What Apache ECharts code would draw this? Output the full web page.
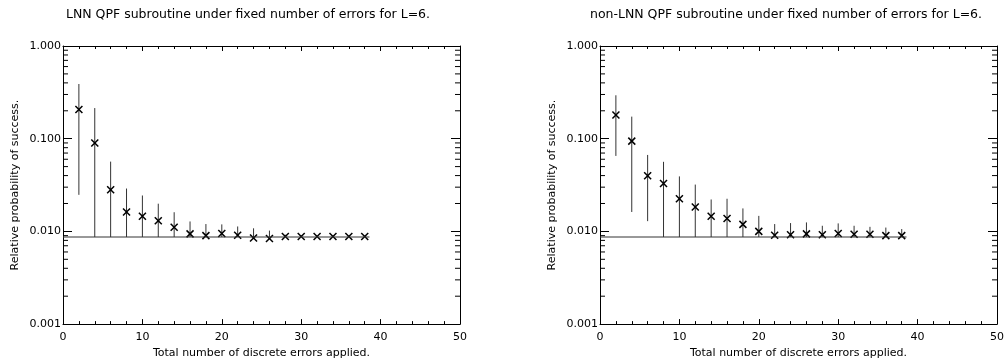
<!DOCTYPE html>
<html>
<head>
<meta charset="utf-8">
<script src="https://cdn.jsdelivr.net/npm/echarts@6/dist/echarts.min.js"></script>
<style>
  html, body { margin: 0; padding: 0; background: #fff; }
  #main { width: 1007px; height: 364px; }
</style>
</head>
<body>
<div id="main"></div>
<script>
// number of errors applied
var errorsApplied = [2, 4, 6, 8, 10, 12, 14, 16, 18, 20, 22, 24, 26, 28, 30, 32, 34, 36, 38];

// LNN panel: value, low, high of the error bar
var lnnValue = [0.207, 0.0897, 0.0281, 0.0162, 0.0146, 0.0130, 0.0111, 0.0094, 0.0090, 0.0095, 0.0091, 0.0085, 0.0084, 0.0088, 0.0088, 0.0088, 0.0088, 0.0088, 0.0088];
var lnnLow   = [0.0248, 0.0087, 0.0087, 0.0087, 0.0087, 0.0087, 0.0087, 0.0087, 0.0087, 0.0087, 0.0087, 0.0087, 0.0087, 0.0087, 0.0087, 0.0087, 0.0087, 0.0087, 0.0087];
var lnnHigh  = [0.389, 0.214, 0.0566, 0.029, 0.0244, 0.0199, 0.0161, 0.0128, 0.0120, 0.0119, 0.0113, 0.0108, 0.0102, 0.0092, 0.0091, 0.0090, 0.0090, 0.0090, 0.0090];

// non-LNN panel
var nonValue = [0.180, 0.0942, 0.0399, 0.0328, 0.0225, 0.0183, 0.0146, 0.0138, 0.0119, 0.0100, 0.0091, 0.0092, 0.0094, 0.0092, 0.0095, 0.0093, 0.0093, 0.0090, 0.0090];
var nonLow   = [0.0652, 0.0162, 0.0129, 0.0087, 0.0087, 0.0087, 0.0087, 0.0087, 0.0087, 0.0087, 0.0087, 0.0087, 0.0087, 0.0087, 0.0087, 0.0087, 0.0087, 0.0087, 0.0087];
var nonHigh  = [0.294, 0.173, 0.0668, 0.0563, 0.0392, 0.032, 0.0221, 0.0225, 0.0177, 0.0147, 0.0120, 0.0123, 0.0125, 0.0115, 0.0122, 0.0115, 0.0112, 0.0110, 0.0106];

// horizontal reference level
var baselineValue = 0.0087;
var baselineEnd = 38.6;

// log minor tick values
var logMinorTicks = [];
[0.001, 0.01, 0.1].forEach(function (d) {
  for (var k = 2; k <= 9; k++) logMinorTicks.push(+(d * k).toPrecision(3));
});

var titles = [
  'LNN QPF subroutine under fixed number of errors for L=6.',
  'non-LNN QPF subroutine under fixed number of errors for L=6.'
];

var FONT = 'DejaVu Sans';
var INK = '#000';

var chart = echarts.init(document.getElementById('main'));

function rows(vals, lows, highs) {
  return errorsApplied.map(function (x, i) { return [x, vals[i], lows[i], highs[i]]; });
}

function xAxes(g) {
  var base = {
    gridIndex: g, type: 'value', min: 0, max: 50, interval: 10,
    axisLine: { show: true, onZero: false, lineStyle: { color: INK, width: 1 } },
    axisTick: { show: true, inside: true, length: 5, lineStyle: { color: INK } },
    minorTick: { show: true, splitNumber: 5, length: 3, lineStyle: { color: INK } },
    splitLine: { show: false }
  };
  return [
    Object.assign({}, base, {
      position: 'bottom',
      name: 'Total number of discrete errors applied.',
      nameLocation: 'middle', nameGap: 22,
      nameTextStyle: { fontFamily: FONT, fontSize: 11, color: INK },
      axisLabel: { fontFamily: FONT, fontSize: 11, color: INK, margin: 8 }
    }),
    Object.assign({}, base, { position: 'top', axisLabel: { show: false } })
  ];
}

function yAxes(g) {
  var base = {
    gridIndex: g, type: 'log', logBase: 10, min: 0.001, max: 1,
    axisLine: { show: true, onZero: false, lineStyle: { color: INK, width: 1 } },
    axisTick: { show: true, inside: true, length: 9, lineStyle: { color: INK } },
    splitLine: { show: false }
  };
  return [
    Object.assign({}, base, {
      position: 'left',
      name: 'Relative probability of success.',
      nameLocation: 'middle', nameGap: 42,
      nameTextStyle: { fontFamily: FONT, fontSize: 11, color: INK },
      axisLabel: {
        fontFamily: FONT, fontSize: 11, color: INK, margin: 2,
        formatter: function (v) { return v.toFixed(3); }
      }
    }),
    Object.assign({}, base, { position: 'right', axisLabel: { show: false } })
  ];
}

function barsSeries(g, data) {
  return {
    type: 'custom', xAxisIndex: g * 2, yAxisIndex: g * 2,
    data: data, encode: { x: 0, y: 1 }, clip: true, silent: true,
    renderItem: function (params, api) {
      var x = api.value(0);
      var c = api.coord([x, api.value(1)]);
      var lo = api.coord([x, api.value(2)]);
      var hi = api.coord([x, api.value(3)]);
      var s = 3.5;
      return {
        type: 'group',
        children: [
          { type: 'line', shape: { x1: lo[0], y1: lo[1], x2: hi[0], y2: hi[1] },
            style: { stroke: '#333', lineWidth: 1 } },
          { type: 'line', shape: { x1: c[0] - s, y1: c[1] - s, x2: c[0] + s, y2: c[1] + s },
            style: { stroke: '#000', lineWidth: 1.5 } },
          { type: 'line', shape: { x1: c[0] - s, y1: c[1] + s, x2: c[0] + s, y2: c[1] - s },
            style: { stroke: '#000', lineWidth: 1.5 } }
        ]
      };
    }
  };
}

function minorTickSeries(g) {
  return {
    type: 'custom', xAxisIndex: g * 2, yAxisIndex: g * 2, silent: true,
    data: logMinorTicks.map(function (v) { return [0, v]; }),
    encode: { x: 0, y: 1 },
    renderItem: function (params, api) {
      var v = api.value(1);
      var l = api.coord([0, v]);
      var r = api.coord([50, v]);
      return {
        type: 'group',
        children: [
          { type: 'line', shape: { x1: l[0], y1: l[1], x2: l[0] + 5, y2: l[1] }, style: { stroke: INK, lineWidth: 1 } },
          { type: 'line', shape: { x1: r[0], y1: r[1], x2: r[0] - 5, y2: r[1] }, style: { stroke: INK, lineWidth: 1 } }
        ]
      };
    }
  };
}

function baselineSeries(g) {
  return {
    type: 'line', xAxisIndex: g * 2, yAxisIndex: g * 2, silent: true,
    symbol: 'none', data: [[0, baselineValue], [baselineEnd, baselineValue]],
    lineStyle: { color: '#333', width: 1 }, animation: false
  };
}

var option = {
  animation: false,
  backgroundColor: '#fff',
  title: [
    { text: titles[0], left: 243, top: 3, textAlign: 'center',
      textStyle: { fontFamily: FONT, fontSize: 12.5, fontWeight: 'normal', color: INK } },
    { text: titles[1], left: 781, top: 3, textAlign: 'center',
      textStyle: { fontFamily: FONT, fontSize: 12.5, fontWeight: 'normal', color: INK } }
  ],
  grid: [
    { left: 63, width: 397, top: 46, height: 281 },
    { left: 600, width: 398, top: 46, height: 281 }
  ],
  xAxis: xAxes(0).concat(xAxes(1)),
  yAxis: yAxes(0).concat(yAxes(1)),
  series: [
    minorTickSeries(0), baselineSeries(0), barsSeries(0, rows(lnnValue, lnnLow, lnnHigh)),
    minorTickSeries(1), baselineSeries(1), barsSeries(1, rows(nonValue, nonLow, nonHigh))
  ]
};

chart.setOption(option);
</script>
</body>
</html>
